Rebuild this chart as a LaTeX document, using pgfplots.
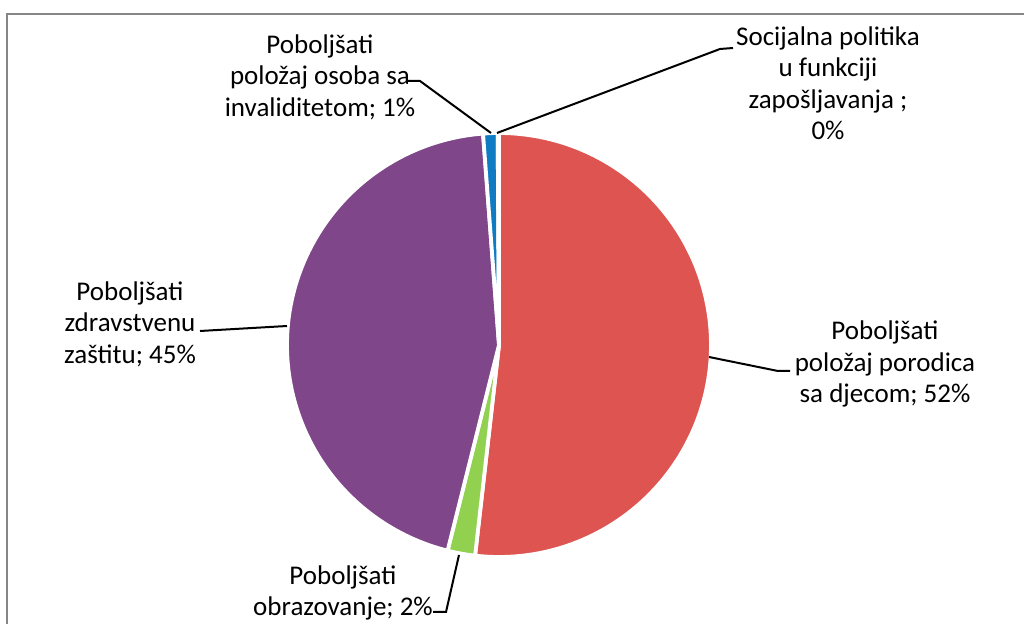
\documentclass[border=0pt]{standalone}
\usepackage{pgfplots}
\pgfplotsset{compat=1.18}
\usepackage{fontspec}
\setmainfont{Carlito}
\definecolor{pieRed}{RGB}{221,84,80}
\definecolor{pieGreen}{RGB}{146,208,80}
\definecolor{pieViolet}{RGB}{127,70,137}
\definecolor{pieBlue}{RGB}{14,123,194}
\definecolor{pieOrange}{RGB}{247,150,70}
\definecolor{frameGray}{RGB}{134,134,134}
\newcommand\lbl{\fontsize{27bp}{31.5bp}\selectfont}
\begin{document}
\begin{tikzpicture}
\begin{axis}[at={(0,0)}, anchor=south west, width=1024bp, height=624bp,
  scale only axis, xmin=0, xmax=1024, ymin=0, ymax=624, hide axis, clip=false]
% slices: percentages 51.8, 2.1, 44.9, 1.1, 0.1 (cumulative, x3.6 degrees)
\addplot[fill=pieRed, draw=white, line width=3.8bp, line join=round, variable=\t,
  domain={3.6*0}:{3.6*51.8}, samples=120]
  ({499+212*sin(\t)},{279+212*cos(\t)}) -- (axis cs:499,279) -- cycle;
\addplot[fill=pieGreen, draw=white, line width=3.8bp, line join=round, variable=\t,
  domain={3.6*51.8}:{3.6*53.9}, samples=10]
  ({499+212*sin(\t)},{279+212*cos(\t)}) -- (axis cs:499,279) -- cycle;
\addplot[fill=pieViolet, draw=white, line width=3.8bp, line join=round, variable=\t,
  domain={3.6*53.9}:{3.6*98.8}, samples=120]
  ({499+212*sin(\t)},{279+212*cos(\t)}) -- (axis cs:499,279) -- cycle;
\addplot[fill=pieBlue, draw=white, line width=3.8bp, line join=round, variable=\t,
  domain={3.6*98.8}:{3.6*99.9}, samples=6]
  ({499+212*sin(\t)},{279+212*cos(\t)}) -- (axis cs:499,279) -- cycle;
\addplot[fill=pieOrange, draw=white, line width=3.8bp, line join=round, variable=\t,
  domain={3.6*99.9}:{3.6*100}, samples=3]
  ({499+212*sin(\t)},{279+212*cos(\t)}) -- (axis cs:499,279) -- cycle;
% frame
\draw[frameGray, line width=2bp] (axis cs:7,-20) -- (axis cs:7,610) -- (axis cs:1040,610);
% leader lines
\draw[black, line width=2bp] (axis cs:408,543) -- (axis cs:420,543) -- (axis cs:491,491);
\draw[black, line width=2bp] (axis cs:497,491) -- (axis cs:720,575) -- (axis cs:733,576);
\draw[black, line width=2bp] (axis cs:709,267) -- (axis cs:778,253) -- (axis cs:790,253);
\draw[black, line width=2bp] (axis cs:200,293) -- (axis cs:287,298);
\draw[black, line width=2bp] (axis cs:433,12) -- (axis cs:446,12) -- (axis cs:459,69);
% labels
\node[align=center, font=\lbl] at (axis cs:320,547) {Poboljšati\\položaj osoba sa\\invaliditetom; 1\%};
\node[align=center, font=\lbl] at (axis cs:828,541) {Socijalna politika\\u funkciji\\zapošljavanja ;\\0\%};
\node[align=center, font=\lbl] at (axis cs:885,260) {Poboljšati\\položaj porodica\\sa djecom; 52\%};
\node[align=center, font=\lbl] at (axis cs:130,300) {Poboljšati\\zdravstvenu\\zaštitu; 45\%};
\node[align=center, font=\lbl] at (axis cs:343,31) {Poboljšati\\obrazovanje; 2\%};
\end{axis}
\pgfresetboundingbox
\path (0,0) rectangle (1024bp,624bp);
\end{tikzpicture}
\end{document}
